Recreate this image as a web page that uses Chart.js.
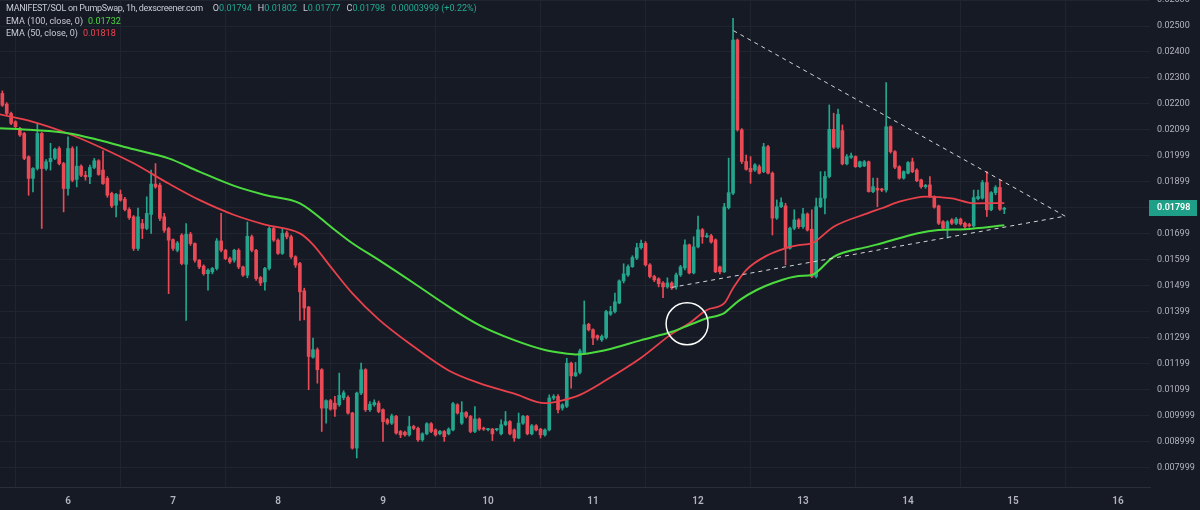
<!DOCTYPE html>
<html>
<head>
<meta charset="utf-8">
<title>MANIFEST/SOL 1h</title>
<script src="https://cdn.jsdelivr.net/npm/chart.js@4/dist/chart.umd.min.js"></script>
<style>
  html, body { margin: 0; padding: 0; background: #161a25; }
  #wrap { position: relative; width: 1200px; height: 510px; }
  #chart { display: block; }
  .legend { position: absolute; left: 6px; top: 2px; font: 9px Roboto, sans-serif; color: #c9ccd4; line-height: 12.5px; white-space: nowrap; pointer-events: none; }
  .legend .title { letter-spacing: -0.3px; }
  .legend span.gap { margin-left: 6px; }
  .up { color: #22ab94; }
  .ema100 { color: #4cdb3f; }
  .ema50 { color: #ee4450; }
</style>
</head>
<body>
<div id="wrap">
  <canvas id="chart" width="1200" height="510"></canvas>
  <div class="legend">
    <div><span class="title">MANIFEST/SOL on PumpSwap, 1h, dexscreener.com</span><span style="margin-left:10px">O</span><span class="up">0.01794</span><span class="gap">H</span><span class="up">0.01802</span><span class="gap">L</span><span class="up">0.01777</span><span class="gap">C</span><span class="up">0.01798</span><span class="gap up">0.00003999 (+0.22%)</span></div>
    <div>EMA (100, close, 0)<span class="ema100" style="margin-left:5px">0.01732</span></div>
    <div>EMA (50, close, 0)<span class="ema50" style="margin-left:5px">0.01818</span></div>
  </div>
</div>
<script>
// hours are counted from day 5 00:00, one candle per hour
const firstHour = 9;

// [open, high, low, close]
const candles = [
  [0.02240,0.02250,0.02190,0.02195],[0.02199,0.02205,0.02155,0.02163],[0.02163,0.02168,0.02120,0.02125],
  [0.02131,0.02135,0.02105,0.02112],[0.02105,0.02110,0.02075,0.02080],[0.02086,0.02090,0.01985,0.01990],
  [0.01996,0.02000,0.01848,0.01913],[0.01913,0.01955,0.01861,0.01951],[0.01951,0.02125,0.01945,0.02086],
  [0.02086,0.02090,0.01720,0.01951],[0.01951,0.01985,0.01945,0.01977],[0.01977,0.02048,0.01945,0.01990],
  [0.01990,0.02030,0.01985,0.02025],[0.02028,0.02035,0.01965,0.01970],[0.01970,0.01975,0.01784,0.01874],
  [0.01874,0.02073,0.01848,0.02028],[0.02028,0.02035,0.01900,0.01906],[0.01909,0.02035,0.01880,0.01960],
  [0.01960,0.01965,0.01920,0.01925],[0.01925,0.01940,0.01906,0.01919],[0.01919,0.01964,0.01893,0.01955],
  [0.01955,0.01990,0.01950,0.01981],[0.01981,0.01985,0.01925,0.01928],[0.01945,0.02019,0.01890,0.01893],
  [0.01913,0.01920,0.01840,0.01848],[0.01855,0.01860,0.01800,0.01807],[0.01810,0.01855,0.01765,0.01851],
  [0.01851,0.01868,0.01825,0.01829],[0.01833,0.01840,0.01788,0.01793],[0.01793,0.01800,0.01755,0.01762],
  [0.01765,0.01770,0.01635,0.01643],[0.01643,0.01799,0.01635,0.01765],[0.01739,0.01755,0.01681,0.01720],
  [0.01720,0.01842,0.01715,0.01778],[0.01774,0.01945,0.01701,0.01891],[0.01891,0.01970,0.01875,0.01880],
  [0.01887,0.01895,0.01750,0.01759],[0.01765,0.01778,0.01705,0.01713],[0.01720,0.01725,0.01469,0.01675],
  [0.01677,0.01680,0.01635,0.01643],[0.01636,0.01670,0.01630,0.01664],[0.01694,0.01700,0.01580,0.01585],
  [0.01582,0.01739,0.01366,0.01698],[0.01698,0.01705,0.01655,0.01662],[0.01662,0.01665,0.01590,0.01598],
  [0.01598,0.01600,0.01565,0.01572],[0.01575,0.01580,0.01540,0.01546],[0.01546,0.01565,0.01482,0.01559],
  [0.01553,0.01570,0.01545,0.01566],[0.01566,0.01681,0.01560,0.01672],[0.01672,0.01778,0.01630,0.01636],
  [0.01636,0.01640,0.01600,0.01604],[0.01604,0.01610,0.01585,0.01591],[0.01598,0.01640,0.01590,0.01636],
  [0.01636,0.01642,0.01565,0.01572],[0.01572,0.01575,0.01535,0.01540],[0.01540,0.01745,0.01530,0.01690],
  [0.01688,0.01695,0.01630,0.01636],[0.01636,0.01640,0.01520,0.01527],[0.01531,0.01535,0.01500,0.01510],
  [0.01514,0.01570,0.01482,0.01566],[0.01566,0.01726,0.01560,0.01720],[0.01720,0.01725,0.01670,0.01675],
  [0.01675,0.01680,0.01620,0.01624],[0.01624,0.01720,0.01620,0.01701],[0.01703,0.01710,0.01680,0.01688],
  [0.01688,0.01695,0.01605,0.01611],[0.01611,0.01615,0.01570,0.01579],[0.01585,0.01590,0.01366,0.01476],
  [0.01480,0.01490,0.01368,0.01414],[0.01417,0.01420,0.01099,0.01227],[0.01224,0.01298,0.01220,0.01253],
  [0.01253,0.01260,0.01124,0.01176],[0.01176,0.01180,0.00938,0.01028],[0.01028,0.01060,0.00970,0.01057],
  [0.01057,0.01062,0.01020,0.01024],[0.01047,0.01073,0.00996,0.01024],[0.01041,0.01163,0.01035,0.01077],
  [0.01068,0.01095,0.01060,0.01087],[0.01069,0.01075,0.01005,0.01009],[0.01009,0.01012,0.00870,0.00874],
  [0.00874,0.01090,0.00836,0.01086],[0.01086,0.01201,0.01080,0.01176],[0.01176,0.01180,0.01015,0.01022],
  [0.01022,0.01053,0.01015,0.01043],[0.01041,0.01060,0.01035,0.01050],[0.01047,0.01055,0.01010,0.01015],
  [0.01022,0.01025,0.00900,0.00976],[0.00983,0.00988,0.00965,0.00970],[0.00970,0.01005,0.00965,0.00998],
  [0.00996,0.01000,0.00928,0.00932],[0.00938,0.00942,0.00914,0.00925],[0.00935,0.00940,0.00920,0.00925],
  [0.00925,0.00996,0.00920,0.00957],[0.00957,0.00962,0.00945,0.00950],[0.00950,0.00955,0.00900,0.00906],
  [0.00906,0.00933,0.00900,0.00929],[0.00929,0.00972,0.00925,0.00968],[0.00968,0.00972,0.00933,0.00938],
  [0.00944,0.00948,0.00920,0.00925],[0.00929,0.00942,0.00925,0.00938],[0.00938,0.00942,0.00900,0.00918],
  [0.00929,0.00952,0.00925,0.00947],[0.00944,0.01050,0.00940,0.01045],[0.01041,0.01045,0.01005,0.01009],
  [0.00970,0.01053,0.00965,0.01011],[0.01011,0.01015,0.00990,0.00996],[0.00996,0.01000,0.00933,0.00938],
  [0.00938,0.01034,0.00933,0.00986],[0.00986,0.00990,0.00942,0.00947],[0.00950,0.00955,0.00942,0.00947],
  [0.00945,0.00950,0.00940,0.00947],[0.00947,0.00950,0.00903,0.00929],[0.00945,0.00950,0.00940,0.00947],
  [0.00929,0.00983,0.00925,0.00964],[0.00964,0.01015,0.00960,0.00976],[0.00976,0.00980,0.00925,0.00929],
  [0.00944,0.00948,0.00900,0.00913],[0.00913,0.01009,0.00910,0.00970],[0.00970,0.01000,0.00965,0.00996],
  [0.00996,0.01000,0.00925,0.00929],[0.00929,0.00965,0.00925,0.00960],[0.00960,0.00965,0.00940,0.00944],
  [0.00947,0.00950,0.00913,0.00925],[0.00925,0.00948,0.00920,0.00944],[0.00944,0.01079,0.00940,0.01067],
  [0.01067,0.01080,0.01060,0.01073],[0.01073,0.01080,0.01009,0.01022],[0.01028,0.01045,0.01020,0.01041],
  [0.01035,0.01220,0.01030,0.01201],[0.01201,0.01205,0.01105,0.01152],[0.01152,0.01204,0.01150,0.01165],
  [0.01166,0.01255,0.01160,0.01248],[0.01240,0.01441,0.01235,0.01349],[0.01351,0.01355,0.01325,0.01330],
  [0.01330,0.01333,0.01272,0.01298],[0.01307,0.01310,0.01290,0.01298],[0.01291,0.01310,0.01285,0.01304],
  [0.01300,0.01405,0.01295,0.01400],[0.01390,0.01420,0.01385,0.01400],[0.01400,0.01471,0.01395,0.01437],
  [0.01433,0.01522,0.01430,0.01518],[0.01518,0.01584,0.01510,0.01545],[0.01541,0.01580,0.01535,0.01573],
  [0.01573,0.01615,0.01570,0.01608],[0.01606,0.01663,0.01600,0.01646],[0.01646,0.01675,0.01640,0.01663],
  [0.01663,0.01670,0.01575,0.01580],[0.01580,0.01585,0.01530,0.01535],[0.01535,0.01540,0.01515,0.01522],
  [0.01526,0.01530,0.01495,0.01507],[0.01510,0.01515,0.01453,0.01495],[0.01495,0.01530,0.01490,0.01510],
  [0.01510,0.01515,0.01485,0.01491],[0.01495,0.01548,0.01486,0.01541],[0.01541,0.01578,0.01535,0.01572],
  [0.01568,0.01676,0.01560,0.01657],[0.01657,0.01660,0.01545,0.01549],[0.01549,0.01688,0.01545,0.01649],
  [0.01649,0.01768,0.01645,0.01715],[0.01715,0.01720,0.01663,0.01688],[0.01688,0.01702,0.01685,0.01692],
  [0.01692,0.01697,0.01663,0.01668],[0.01676,0.01680,0.01550,0.01553],[0.01572,0.01575,0.01545,0.01553],
  [0.01553,0.01817,0.01550,0.01803],[0.01800,0.01991,0.01795,0.01858],[0.01856,0.02530,0.01850,0.02446],
  [0.02446,0.02450,0.02095,0.02100],[0.02100,0.02105,0.01970,0.01978],[0.01978,0.02003,0.01945,0.01948],
  [0.01952,0.01997,0.01894,0.01939],[0.01945,0.01970,0.01940,0.01965],[0.01958,0.01965,0.01930,0.01933],
  [0.01939,0.02048,0.01935,0.02035],[0.02035,0.02040,0.01930,0.01933],[0.01933,0.01938,0.01695,0.01760],
  [0.01760,0.01830,0.01755,0.01804],[0.01804,0.01838,0.01800,0.01820],[0.01807,0.01817,0.01580,0.01644],
  [0.01644,0.01725,0.01640,0.01721],[0.01721,0.01792,0.01715,0.01753],[0.01753,0.01758,0.01720,0.01727],
  [0.01727,0.01798,0.01720,0.01776],[0.01776,0.01780,0.01710,0.01714],[0.01717,0.01792,0.01530,0.01535],
  [0.01535,0.01837,0.01530,0.01804],[0.01804,0.01939,0.01800,0.01837],[0.01837,0.01939,0.01776,0.01920],
  [0.01920,0.02196,0.01915,0.02102],[0.02102,0.02164,0.02028,0.02033],[0.02033,0.02180,0.02028,0.02160],
  [0.02097,0.02119,0.01965,0.01969],[0.01969,0.02005,0.01965,0.01997],[0.01994,0.02010,0.01990,0.02000],
  [0.01997,0.02000,0.01955,0.01958],[0.01958,0.01980,0.01955,0.01977],[0.01961,0.01982,0.01958,0.01977],
  [0.01977,0.01980,0.01860,0.01862],[0.01862,0.01914,0.01858,0.01881],[0.01875,0.01914,0.01804,0.01868],
  [0.01872,0.01875,0.01862,0.01868],[0.01868,0.02282,0.01860,0.02112],[0.02112,0.02115,0.02010,0.02016],
  [0.02016,0.02020,0.01950,0.01956],[0.01958,0.01962,0.01910,0.01914],[0.01914,0.01942,0.01910,0.01939],
  [0.01933,0.01978,0.01930,0.01974],[0.01977,0.01991,0.01935,0.01939],[0.01945,0.01950,0.01900,0.01904],
  [0.01907,0.01910,0.01875,0.01881],[0.01881,0.01890,0.01875,0.01886],[0.01888,0.01920,0.01840,0.01843],
  [0.01843,0.01846,0.01798,0.01802],[0.01807,0.01810,0.01735,0.01740],[0.01746,0.01750,0.01715,0.01721],
  [0.01721,0.01750,0.01683,0.01746],[0.01753,0.01758,0.01735,0.01740],[0.01740,0.01762,0.01735,0.01756],
  [0.01756,0.01760,0.01733,0.01738],[0.01740,0.01745,0.01720,0.01727],[0.01735,0.01740,0.01725,0.01730],
  [0.01730,0.01868,0.01725,0.01839],[0.01835,0.01868,0.01830,0.01843],[0.01837,0.01905,0.01833,0.01897],
  [0.01897,0.01939,0.01766,0.01792],[0.01792,0.01862,0.01788,0.01858],[0.01858,0.01885,0.01850,0.01878],
  [0.01878,0.01907,0.01790,0.01794],[0.01794,0.01802,0.01777,0.01798]
];

// EMA lines
const ema50Hours  = [8.4, 16, 24, 31, 39, 47, 54, 62, 69, 77, 80, 84, 89, 95, 103, 111, 118, 126, 133, 137, 141, 147, 155, 162, 166, 170, 174, 176, 179, 184, 188, 191, 194, 199, 207, 210, 214, 220, 226, 231, 238];
const ema50Values = [0.02160, 0.02131, 0.02086, 0.02036, 0.01971, 0.01893, 0.01830, 0.01772, 0.01735, 0.01701, 0.01658, 0.01573, 0.01470, 0.01370, 0.01265, 0.01173, 0.01124, 0.01084, 0.01047, 0.01058, 0.01079, 0.01136, 0.01222, 0.01314, 0.01355, 0.01406, 0.01432, 0.01490, 0.01560, 0.01618, 0.01644, 0.01656, 0.01663, 0.01727, 0.01780, 0.01798, 0.01823, 0.01843, 0.01836, 0.01817, 0.01818];
const ema100Hours  = [8.4, 16, 24, 31, 39, 47, 54, 62, 69, 77, 85, 89, 95, 103, 111, 118, 126, 133, 137, 140, 147, 155, 162, 166, 170, 174, 175.3, 177.6, 181.4, 185, 191, 194, 199, 207, 210, 218, 223, 229, 238];
const ema100Values = [0.02106, 0.02099, 0.02087, 0.02061, 0.02025, 0.01990, 0.01939, 0.01884, 0.01849, 0.01817, 0.01714, 0.01663, 0.01599, 0.01510, 0.01419, 0.01348, 0.01290, 0.01252, 0.01240, 0.01235, 0.01252, 0.01290, 0.01322, 0.01348, 0.01374, 0.01394, 0.01413, 0.01445, 0.01483, 0.01509, 0.01537, 0.01541, 0.01611, 0.01650, 0.01663, 0.01701, 0.01714, 0.01717, 0.01732];

// triangle drawn on the chart (hour, price)
const upperLine = [[176.1, 0.02482], [251.9, 0.017675]];
const lowerLine = [[162.0, 0.01493], [251.9, 0.017675]];
const crossMark = [165.5, 0.01353];

const dayHours  = [24, 48, 72, 96, 120, 144, 168, 192, 216, 240, 264];
const dayLabels = ['6', '7', '8', '9', '10', '11', '12', '13', '14', '15', '16'];

const priceTicks  = [0.026, 0.025, 0.024, 0.023, 0.022, 0.021, 0.020, 0.019, 0.018, 0.017, 0.016, 0.015, 0.014, 0.013, 0.012, 0.011, 0.010, 0.009, 0.008];
const priceLabels = ['0.02600', '0.02500', '0.02400', '0.02300', '0.02200', '0.02099', '0.01999', '0.01899', '', '0.01699', '0.01599', '0.01499', '0.01399', '0.01299', '0.01199', '0.01099', '0.009999', '0.008999', '0.007999'];

const UP = '#23a68d';
const DOWN = '#ea4a56';
const candleColor = i => candles[i][3] >= candles[i][0] ? UP : DOWN;

// white ring around the EMA cross
const crossRing = {
  id: 'crossRing',
  afterDatasetsDraw(chart) {
    const x = chart.scales.x.getPixelForValue(crossMark[0]);
    const y = chart.scales.y.getPixelForValue(crossMark[1]);
    const ctx = chart.ctx;
    ctx.save();
    ctx.strokeStyle = '#ffffff';
    ctx.lineWidth = 1.5;
    ctx.beginPath();
    ctx.arc(x, y, 21, 0, Math.PI * 2);
    ctx.stroke();
    ctx.restore();
  }
};

const lastPriceBox = {
  id: 'lastPriceBox',
  afterDraw(chart) {
    const yScale = chart.scales.y;
    const last = candles[candles.length - 1][3];
    const y = yScale.getPixelForValue(last);
    const ctx = chart.ctx;
    ctx.save();
    ctx.fillStyle = '#1f9f87';
    ctx.fillRect(yScale.left - 1, Math.round(y) - 8, 48, 16);
    ctx.fillStyle = '#ffffff';
    ctx.font = '600 9px Roboto';
    ctx.textBaseline = 'middle';
    ctx.fillText(last.toFixed(5), yScale.left + 7, y);
    ctx.restore();
  }
};

Chart.defaults.font.family = 'Roboto';

new Chart(document.getElementById('chart'), {
  type: 'bar',
  data: {
    datasets: [
      {
        type: 'line',
        data: upperLine.map(p => ({x: p[0], y: p[1]})),
        borderColor: '#d6d6d6',
        borderWidth: 1,
        borderDash: [4, 4],
        pointRadius: 0,
        order: 0
      },
      {
        type: 'line',
        data: lowerLine.map(p => ({x: p[0], y: p[1]})),
        borderColor: '#d6d6d6',
        borderWidth: 1,
        borderDash: [4, 4],
        pointRadius: 0,
        order: 0
      },
      {
        type: 'line',
        data: ema100Hours.map((h, i) => ({x: h, y: ema100Values[i]})),
        borderColor: '#4cdb3f',
        borderWidth: 2,
        pointRadius: 0,
        cubicInterpolationMode: 'monotone',
        order: 1
      },
      {
        type: 'line',
        data: ema50Hours.map((h, i) => ({x: h, y: ema50Values[i]})),
        borderColor: '#e8414b',
        borderWidth: 1.8,
        pointRadius: 0,
        cubicInterpolationMode: 'monotone',
        order: 1
      },
      {
        // wicks
        data: candles.map((c, i) => ({x: firstHour + i, y: [c[2], c[1]]})),
        backgroundColor: ctx => candleColor(ctx.dataIndex),
        barThickness: 1,
        grouped: false,
        order: 3
      },
      {
        // bodies
        data: candles.map((c, i) => ({x: firstHour + i, y: [c[0], c[3]]})),
        backgroundColor: ctx => candleColor(ctx.dataIndex),
        barThickness: 3,
        minBarLength: 1,
        grouped: false,
        order: 2
      }
    ]
  },
  options: {
    responsive: false,
    devicePixelRatio: 1,
    animation: false,
    layout: { padding: 0, autoPadding: false },
    plugins: { legend: { display: false }, tooltip: { enabled: false } },
    scales: {
      x: {
        type: 'linear',
        offset: false,
        min: 8.46,
        max: 271.3,
        afterBuildTicks: s => { s.ticks = dayHours.map(v => ({value: v})); },
        afterFit: s => { s.height = 23; s.paddingLeft = 0; s.paddingRight = 0; },
        grid: { color: '#20242e', drawTicks: false },
        border: { display: true, color: '#2a2e39' },
        ticks: {
          autoSkip: false,
          maxRotation: 0,
          padding: 8,
          color: '#b2b5be',
          font: { size: 10, weight: '600' },
          callback: (v, i) => dayLabels[i]
        }
      },
      y: {
        type: 'linear',
        position: 'right',
        min: 0.007241,
        max: 0.0260016,
        afterBuildTicks: s => { s.ticks = priceTicks.map(v => ({value: v})); },
        afterFit: s => { s.width = 50; s.paddingTop = 0; s.paddingBottom = 0; },
        grid: { color: '#20242e', drawTicks: false },
        border: { display: false },
        ticks: {
          autoSkip: false,
          padding: 7,
          color: '#b2b5be',
          font: { size: 9 },
          callback: (v, i) => priceLabels[i]
        }
      }
    }
  },
  plugins: [crossRing, lastPriceBox]
});
</script>
</body>
</html>
